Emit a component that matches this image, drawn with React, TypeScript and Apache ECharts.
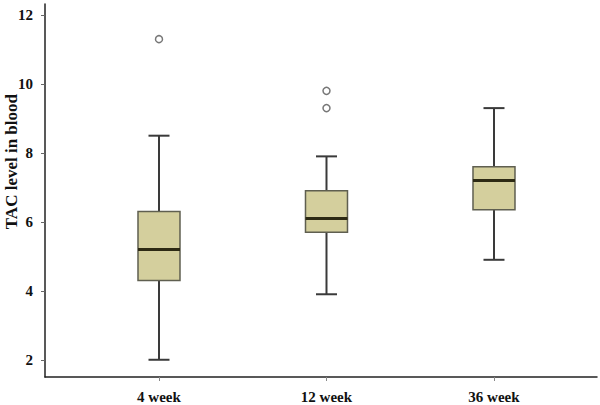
import React, { useEffect, useRef } from "react";
import * as echarts from "echarts";

const categories = ["4 week", "12 week", "36 week"];
const positions = [1, 2, 3];
const whiskerLow = [2.0, 3.9, 4.9];
const q1 = [4.3, 5.7, 6.35];
const median = [5.2, 6.1, 7.2];
const q3 = [6.3, 6.9, 7.6];
const whiskerHigh = [8.5, 7.9, 9.3];
const outlierPos = [1, 2, 2];
const outlierVal = [11.3, 9.8, 9.3];
const yTicks = [2, 4, 6, 8, 10, 12];

const FONT = "Liberation Serif";

export default function App() {
  const ref = useRef<HTMLDivElement>(null);
  useEffect(() => {
    if (!ref.current) return;
    const chart = echarts.init(ref.current, undefined, { renderer: "svg" });
    const boxData = positions.map((p, i) => [p, whiskerLow[i], q1[i], median[i], q3[i], whiskerHigh[i]]);
    chart.setOption({
      animation: false,
      grid: { left: 45, right: 3, top: 4, bottom: 28 },
      xAxis: {
        type: "value",
        min: 0.3194,
        max: 3.615,
        splitLine: { show: false },
        axisLine: { show: true, lineStyle: { color: "#222", width: 1.5 } },
        axisTick: { show: true, customValues: positions, length: 4, lineStyle: { color: "#888", width: 1 } },
        axisLabel: {
          customValues: positions,
          formatter: (v: number) => categories[Math.round(v) - 1] ?? "",
          margin: 12,
          fontFamily: FONT,
          fontWeight: "bold",
          fontSize: 15,
          color: "#111",
        },
      },
      yAxis: {
        type: "value",
        min: 1.5,
        max: 12.32,
        splitLine: { show: false },
        axisLine: { show: true, lineStyle: { color: "#222", width: 1.5 } },
        axisTick: { show: true, customValues: yTicks, length: 4, lineStyle: { color: "#666", width: 1 } },
        axisLabel: {
          customValues: yTicks,
          margin: 12,
          fontFamily: FONT,
          fontWeight: "bold",
          fontSize: 15,
          color: "#111",
        },
      },
      graphic: [
        {
          type: "text",
          left: 3,
          top: 94,
          rotation: Math.PI / 2,
          style: {
            text: "TAC level in blood",
            fontFamily: FONT,
            fontWeight: "bold",
            fontSize: 17,
            fill: "#111",
          },
        },
      ],
      series: [
        {
          type: "custom",
          data: boxData,
          encode: { x: 0, y: [1, 2, 3, 4, 5] },
          renderItem: (params: any, api: any) => {
            const x = api.value(0);
            const lo = api.coord([x, api.value(1)]);
            const b1 = api.coord([x, api.value(2)]);
            const md = api.coord([x, api.value(3)]);
            const b3 = api.coord([x, api.value(4)]);
            const hi = api.coord([x, api.value(5)]);
            const cx = lo[0];
            const bw = 42;
            const cw = 21;
            const lineStyle = { stroke: "#3a3a3a", lineWidth: 2 };
            return {
              type: "group",
              children: [
                { type: "line", shape: { x1: cx, y1: hi[1], x2: cx, y2: b3[1] }, style: lineStyle },
                { type: "line", shape: { x1: cx, y1: b1[1], x2: cx, y2: lo[1] }, style: lineStyle },
                { type: "line", shape: { x1: cx - cw / 2, y1: hi[1], x2: cx + cw / 2, y2: hi[1] }, style: lineStyle },
                { type: "line", shape: { x1: cx - cw / 2, y1: lo[1], x2: cx + cw / 2, y2: lo[1] }, style: lineStyle },
                {
                  type: "rect",
                  shape: { x: cx - bw / 2, y: b3[1], width: bw, height: b1[1] - b3[1] },
                  style: { fill: "#d4cf9d", stroke: "#5f5f50", lineWidth: 1.5 },
                },
                {
                  type: "line",
                  shape: { x1: cx - bw / 2, y1: md[1], x2: cx + bw / 2, y2: md[1] },
                  style: { stroke: "#2d2a14", lineWidth: 3 },
                },
              ],
            };
          },
        },
        {
          type: "scatter",
          data: outlierPos.map((p, i) => [p, outlierVal[i]]),
          symbol: "circle",
          symbolSize: 7,
          itemStyle: { color: "#fff", borderColor: "#777", borderWidth: 1.5, opacity: 1 },
        },
      ],
    });
    return () => chart.dispose();
  }, []);
  return <div ref={ref} style={{ width: 600, height: 405, position: "absolute", left: 0, top: 0 }} />;
}
